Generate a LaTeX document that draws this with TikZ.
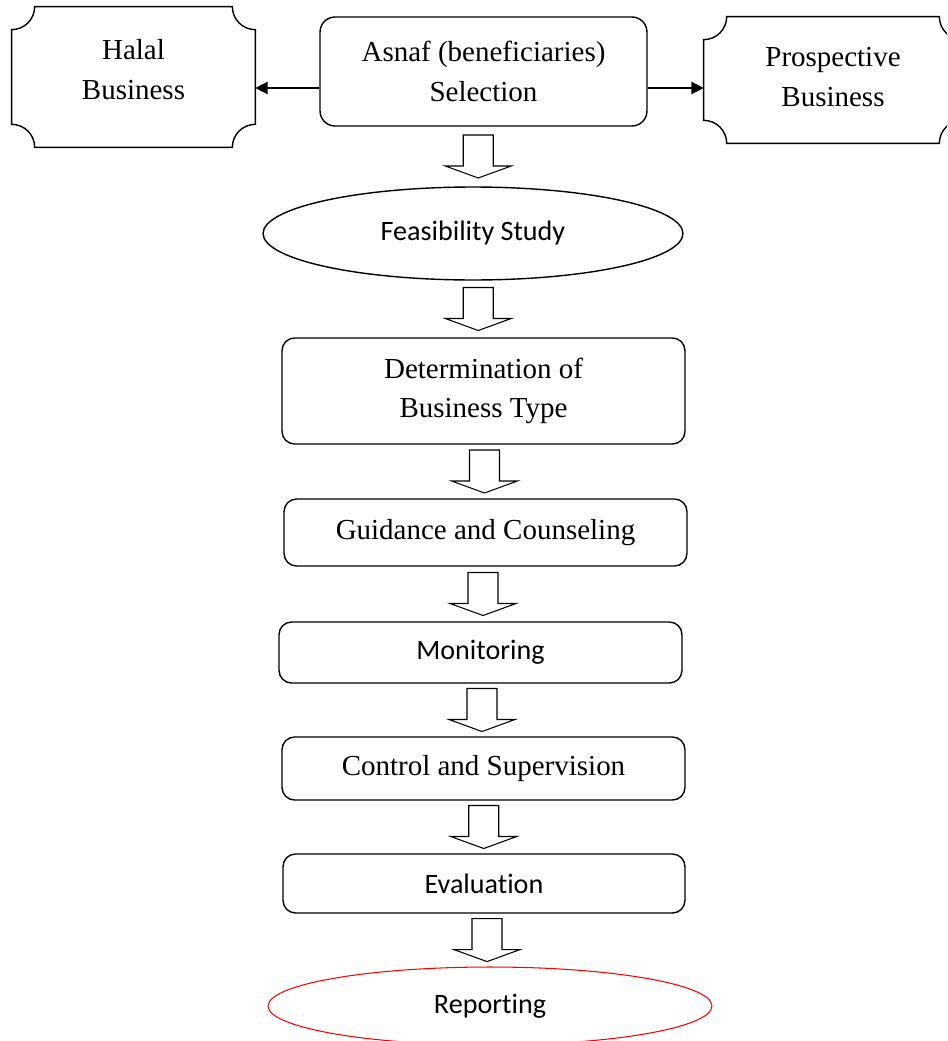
\documentclass[tikz,border=0pt]{standalone}
\usepackage{fontspec}
\setmainfont{Liberation Serif}
\newfontfamily\calibri[Ligatures=NoCommon]{Carlito}
\usetikzlibrary{shapes,arrows.meta,positioning,calc}

% plaque box with concave corners round a named node
\newcommand{\plaque}[2]{%
  \draw[boxline] ($(#1.north west)+(#2,0)$) -- ($(#1.north east)+(-#2,0)$)
    arc[start angle=180,end angle=270,radius=#2]
    -- ($(#1.south east)+(0,#2)$)
    arc[start angle=90,end angle=180,radius=#2]
    -- ($(#1.south west)+(#2,0)$)
    arc[start angle=0,end angle=90,radius=#2]
    -- ($(#1.north west)+(0,-#2)$)
    arc[start angle=270,end angle=360,radius=#2]
    -- cycle;}

% hollow block arrow half way between two nodes
\newcommand{\blockdown}[2]{%
  \coordinate (mid) at ($(#1.south)!0.5!(#2.north)$);
  \draw[hollow] ($(mid)+(-15,21.5)$) -- ($(mid)+(15,21.5)$) -- ($(mid)+(15,-9.5)$)
    -- ($(mid)+(33,-9.5)$) -- ($(mid)+(0,-21.5)$) -- ($(mid)+(-33,-9.5)$)
    -- ($(mid)+(-15,-9.5)$) -- cycle;}

\begin{document}
\begin{tikzpicture}[x=0.02cm,y=0.02cm,
  boxline/.style={line width=0.8pt},
  serif/.style={font=\fontsize{16.5}{22.5}\selectfont,align=center,inner sep=0pt},
  sans/.style={font=\calibri\fontsize{16}{20}\selectfont,align=center,inner sep=0pt},
  roundbox/.style={draw,boxline,rounded corners=0.25cm,minimum width=8.06cm},
  oval/.style={draw,ellipse,inner sep=0pt},
  hollow/.style={line width=0.6pt,fill=white},
  tip/.style={-{Triangle[length=7pt,width=7pt]},line width=0.8pt}]
\useasboundingbox (0,0) rectangle (947,-1041);
\clip (0,0) rectangle (947,-1041);

\node[serif,text depth=0.3cm,minimum width=4.86cm,minimum height=2.8cm] (halal) at (133.5,-77) {Halal\\Business};
\node[serif,draw,boxline,rounded corners=0.3cm,minimum width=6.54cm,minimum height=2.18cm] (asnaf) at (483.5,-71.5) {Asnaf (beneficiaries)\\Selection};
\node[serif,text depth=0.12cm,minimum width=5.16cm,minimum height=2.52cm] (prosp) at (833,-80) {Prospective\\Business};
\plaque{halal}{0.46cm}
\plaque{prosp}{0.46cm}

\node[sans,oval,boxline,minimum width=8.4cm,minimum height=1.86cm] (feas) at (473,-233.5) {Feasibility Study};
\node[serif,roundbox,minimum height=2.12cm] (determ) at (483.5,-391) {Determination of\\Business Type};
\node[serif,roundbox,minimum height=1.34cm] (guide) at (485.5,-532.5) {Guidance and Counseling};
\node[sans,roundbox,minimum height=1.22cm] (monit) at (480.5,-652.5) {Monitoring};
\node[serif,roundbox,minimum height=1.26cm] (control) at (483.5,-768.5) {Control and Supervision};
\node[sans,roundbox,minimum width=8.04cm,minimum height=1.18cm] (evalu) at (484,-883.5) {Evaluation};
\node[sans,oval,draw=red,line width=0.6pt,minimum width=8.88cm,minimum height=1.56cm] (report) at (490,-1006) {Reporting};

\draw[tip] ([yshift=-0.33cm]asnaf.west) coordinate (aw) -- (aw -| halal.east);
\draw[tip] ([yshift=-0.33cm]asnaf.east) coordinate (ae) -- (ae -| prosp.west);

\blockdown{asnaf}{feas}
\blockdown{feas}{determ}
\blockdown{determ}{guide}
\blockdown{guide}{monit}
\blockdown{monit}{control}
\blockdown{control}{evalu}
\blockdown{evalu}{report}
\end{tikzpicture}
\end{document}
